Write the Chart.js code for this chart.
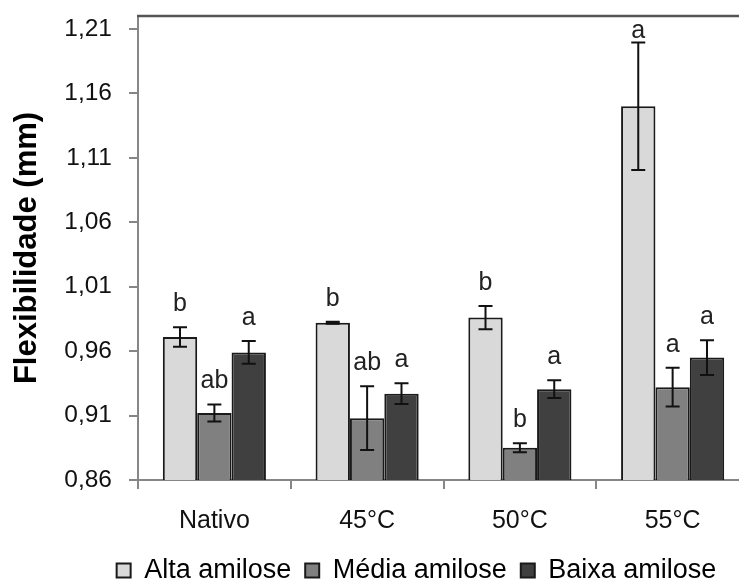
<!DOCTYPE html>
<html>
<head>
<meta charset="utf-8">
<script src="https://cdn.jsdelivr.net/npm/chart.js@4.4.1/dist/chart.umd.min.js"></script>
<style>
  html, body { margin: 0; padding: 0; background: #fff; overflow: hidden; }
  #wrap { width: 750px; height: 594px; }
</style>
</head>
<body>
<div id="wrap"><canvas id="c" width="750" height="594"></canvas></div>
<script>
// Categories (treatments)
const CATEGORIES = ['Nativo', '45°C', '50°C', '55°C'];

// Mean flexibility (mm) per amylose level
const ALTA  = [0.971, 0.982, 0.986, 1.150];
const MEDIA = [0.912, 0.908, 0.885, 0.932];
const BAIXA = [0.959, 0.927, 0.9305, 0.955];

// Standard deviations
const ALTA_ERR  = [0.0076, 0.0008, 0.0090, 0.0495];
const MEDIA_ERR = [0.0066, 0.0248, 0.0035, 0.0150];
const BAIXA_ERR = [0.0088, 0.0080, 0.0068, 0.0135];

// Significance letters
const ALTA_LET  = ['b', 'b', 'b', 'a'];
const MEDIA_LET = ['ab', 'ab', 'b', 'a'];
const BAIXA_LET = ['a', 'a', 'a', 'a'];

// Y axis
const Y_TICKS = [0.86, 0.91, 0.96, 1.01, 1.06, 1.11, 1.16, 1.21];
const Y_MIN = 0.86, Y_MAX = 1.22;

const FONT = 'Liberation Sans, Arial, sans-serif';
const AXIS_GRAY = '#868686';

// Error bars and letters above each bar
const errorBars = {
  id: 'errorBars',
  afterDatasetsDraw(chart) {
    const ctx = chart.ctx;
    const y = chart.scales.y;
    const top = chart.chartArea.top;
    chart.data.datasets.forEach((ds, di) => {
      const meta = chart.getDatasetMeta(di);
      meta.data.forEach((bar, i) => {
        const v = ds.data[i], e = ds.errors[i];
        const yt = y.getPixelForValue(v + e);
        const yb = y.getPixelForValue(v - e);
        const x = bar.x;
        ctx.save();
        ctx.strokeStyle = '#111';
        ctx.lineWidth = 2;
        ctx.beginPath();
        ctx.moveTo(x, yt); ctx.lineTo(x, yb);
        ctx.moveTo(x - 7, yt); ctx.lineTo(x + 7, yt);
        ctx.moveTo(x - 7, yb); ctx.lineTo(x + 7, yb);
        ctx.stroke();
        ctx.fillStyle = '#222';
        ctx.font = '25px ' + FONT;
        ctx.textAlign = 'center';
        ctx.textBaseline = 'middle';
        const ly = Math.max(yt - 23, top + 15);
        ctx.fillText(ds.letters[i], x, ly);
        ctx.restore();
      });
    });
  }
};

// Upper frame line of the plot area
const topFrame = {
  id: 'topFrame',
  afterDraw(chart) {
    const {ctx, chartArea} = chart;
    ctx.save();
    ctx.strokeStyle = '#555';
    ctx.lineWidth = 2.5;
    ctx.beginPath();
    ctx.moveTo(chartArea.left - 1, chartArea.top);
    ctx.lineTo(chartArea.right, chartArea.top);
    ctx.stroke();
    ctx.restore();
  }
};

// Move the legend row to its place under the plot
const legendShift = {
  id: 'legendShift',
  afterLayout(chart) {
    const lg = chart.legend;
    if (lg) { lg.left += 42; lg.right += 42; }
  }
};

new Chart(document.getElementById('c'), {
  type: 'bar',
  data: {
    labels: CATEGORIES,
    datasets: [
      { label: 'Alta amilose', data: ALTA, errors: ALTA_ERR, letters: ALTA_LET,
        backgroundColor: '#D9D9D9', borderColor: '#1a1a1a', borderWidth: 2, borderSkipped: false },
      { label: 'Média amilose', data: MEDIA, errors: MEDIA_ERR, letters: MEDIA_LET,
        backgroundColor: '#808080', borderColor: '#1a1a1a', borderWidth: 2, borderSkipped: false },
      { label: 'Baixa amilose', data: BAIXA, errors: BAIXA_ERR, letters: BAIXA_LET,
        backgroundColor: '#404040', borderColor: '#1a1a1a', borderWidth: 2, borderSkipped: false }
    ]
  },
  options: {
    responsive: false,
    animation: false,
    events: [],
    layout: { padding: { left: 0, right: 1, top: 16, bottom: 0 } },
    datasets: { bar: { categoryPercentage: 0.675, barPercentage: 1.0 } },
    plugins: {
      tooltip: { enabled: false },
      legend: {
        position: 'bottom',
        labels: {
          color: '#000',
          font: { family: FONT, size: 27 },
          boxWidth: 14,
          boxHeight: 14,
          padding: 14
        }
      }
    },
    scales: {
      x: {
        offset: true,
        grid: { offset: true, drawOnChartArea: false, drawTicks: true, tickLength: 9,
                color: AXIS_GRAY, lineWidth: 2 },
        border: { color: AXIS_GRAY, width: 2 },
        ticks: { color: '#111', font: { family: FONT, size: 25 }, padding: 17 },
        afterFit(scale) { scale.height = 63; scale.paddingLeft = 0; scale.paddingRight = 0; }
      },
      y: {
        min: Y_MIN,
        max: Y_MAX,
        afterBuildTicks(scale) { scale.ticks = Y_TICKS.map(v => ({ value: v })); },
        grid: { drawOnChartArea: false, drawTicks: true, tickLength: 9,
                color: AXIS_GRAY, lineWidth: 2 },
        border: { color: AXIS_GRAY, width: 2 },
        ticks: {
          color: '#111',
          font: { family: FONT, size: 24.5 },
          padding: 17,
          callback: (v) => Number(v).toFixed(2).replace('.', ',')
        },
        title: {
          display: true,
          text: 'Flexibilidade (mm)',
          color: '#000',
          font: { family: FONT, size: 31, weight: 'bold' },
          padding: { top: 9, bottom: 0 }
        },
        afterFit(scale) { scale.width = 138; scale.paddingTop = 0; scale.paddingBottom = 0; }
      }
    }
  },
  plugins: [errorBars, topFrame, legendShift]
});
</script>
</body>
</html>
